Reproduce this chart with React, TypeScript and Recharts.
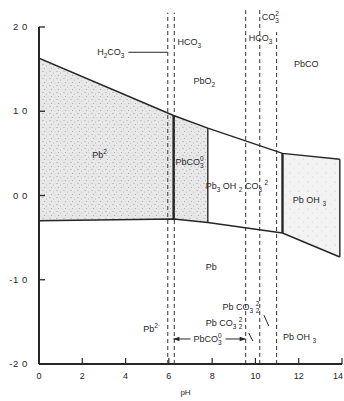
import React from 'react';
import {
  ComposedChart,
  Area,
  Line,
  XAxis,
  YAxis,
  ReferenceLine,
  ReferenceDot,
  Label,
} from 'recharts';

// Stability field boundaries (pH, Eh in V)
const boundaryPH = [0, 6.22, 7.8, 11.25, 13.9];
const upperEh = [1.63, 0.95, 0.8, 0.5, 0.43];
const lowerEh = [-0.3, -0.28, -0.32, -0.445, -0.73];

// Carbonate speciation limits (dashed verticals) and how high they reach
const dashedPH = [5.95, 6.25, 9.55, 10.2, 10.98];
const dashedTopEh = [2.17, 2.17, 2.2, 2.2, 1.94];

// Axis ticks
const xTicks = [0, 2, 4, 6, 8, 10, 12, 14];
const yTicks = [-2, -1, 0, 1, 2];
const yTickLabels = ['-2 0', '-1 0', '0 0', '1 0', '2 0'];

type Part = { t: string; k?: 'sub' | 'sup'; over?: string };

// Field and species names placed at (pH, Eh)
const speciesLabels: { ph: number; eh: number; parts: Part[] }[] = [
  { ph: 2.69, eh: 1.667, parts: [{ t: 'H' }, { t: '2', k: 'sub' }, { t: 'CO' }, { t: '3', k: 'sub' }] },
  { ph: 6.4, eh: 1.786, parts: [{ t: 'HCO' }, { t: '3', k: 'sub' }] },
  { ph: 7.14, eh: 1.323, parts: [{ t: 'PbO' }, { t: '2', k: 'sub' }] },
  { ph: 10.29, eh: 2.083, parts: [{ t: 'CO' }, { t: '3', k: 'sub', over: '2' }] },
  { ph: 9.69, eh: 1.834, parts: [{ t: 'HCO' }, { t: '3', k: 'sub' }] },
  { ph: 11.78, eh: 1.525, parts: [{ t: 'PbCO' }] },
  { ph: 2.46, eh: 0.445, parts: [{ t: 'Pb' }, { t: '2', k: 'sup' }] },
  { ph: 6.31, eh: 0.362, parts: [{ t: 'PbCO' }, { t: '3', k: 'sub', over: '0' }] },
  {
    ph: 7.7,
    eh: 0.077,
    parts: [
      { t: 'Pb' },
      { t: '3', k: 'sub' },
      { t: ' OH ' },
      { t: '2', k: 'sub' },
      { t: ' CO' },
      { t: '3', k: 'sub' },
      { t: ' ' },
      { t: '2', k: 'sup' },
    ],
  },
  { ph: 11.73, eh: -0.089, parts: [{ t: 'Pb OH ' }, { t: '3', k: 'sub' }] },
  { ph: 7.7, eh: -0.884, parts: [{ t: 'Pb' }] },
  { ph: 8.48, eh: -1.359, parts: [{ t: 'Pb CO' }, { t: '3', k: 'sub' }, { t: ' ' }, { t: '2', k: 'sub', over: '2' }] },
  { ph: 7.7, eh: -1.549, parts: [{ t: 'Pb CO' }, { t: '3', k: 'sub' }, { t: ' ' }, { t: '2', k: 'sub', over: '2' }] },
  { ph: 4.82, eh: -1.62, parts: [{ t: 'Pb' }, { t: '2·', k: 'sup' }] },
  { ph: 7.14, eh: -1.739, parts: [{ t: 'PbCO' }, { t: '3', k: 'sub', over: '0' }] },
  { ph: 11.27, eh: -1.715, parts: [{ t: 'Pb OH ' }, { t: '3', k: 'sub' }] },
];

// Leader lines and arrows next to the labels: [pH1, Eh1, pH2, Eh2]
const leaderLines: [number, number, number, number][] = [
  [4.13, 1.7, 5.95, 1.7],
  [6.21, -1.703, 7.0, -1.703],
  [8.62, -1.703, 9.55, -1.703],
  [10.39, -1.419, 10.62, -1.55],
  [9.69, -1.632, 9.88, -1.727],
];
const arrowHeads: { ph: number; eh: number; dir: 1 | -1 }[] = [
  { ph: 6.21, eh: -1.703, dir: -1 },
  { ph: 9.55, eh: -1.703, dir: 1 },
];

const INK = '#262626';
const FONT = '"Liberation Sans", Arial, Helvetica, sans-serif';

const rows = boundaryPH.map((ph, i) => ({ ph, range: [lowerEh[i], upperEh[i]] }));
const pb2Field = rows.slice(0, 2);
const pbco3Field = rows.slice(1, 3);
const hydroxideField = rows.slice(3, 5);
const upperLine = boundaryPH.map((ph, i) => ({ ph, eh: upperEh[i] }));
const lowerLine = boundaryPH.map((ph, i) => ({ ph, eh: lowerEh[i] }));
const verticals = boundaryPH.slice(1).map((ph, j) => [
  { ph, eh: lowerEh[j + 1] },
  { ph, eh: upperEh[j + 1] },
]);

function SpeciesText({ cx, cy, parts }: { cx?: number; cy?: number; parts: Part[] }) {
  if (cx == null || cy == null) return null;
  const spans: React.ReactNode[] = [];
  let cur = 0;
  parts.forEach((p, i) => {
    const target = p.k === 'sub' ? 3 : p.k === 'sup' ? -4 : 0;
    const size = p.k ? 6.5 : 9;
    if (p.over) {
      // superscript stacked over a subscript
      spans.push(
        <tspan key={i + 'o'} dy={-4 - cur} fontSize={6.5}>
          {p.over}
        </tspan>
      );
      spans.push(
        <tspan key={i} dx={-3.6} dy={7} fontSize={6.5}>
          {p.t}
        </tspan>
      );
      cur = 3;
    } else {
      spans.push(
        <tspan key={i} dy={target - cur} fontSize={size}>
          {p.t}
        </tspan>
      );
      cur = target;
    }
  });
  return (
    <text x={cx} y={cy} fill={INK} fontFamily={FONT} fontSize={9} style={{ whiteSpace: 'pre' }}>
      {spans}
    </text>
  );
}

function ArrowHead({ cx, cy, dir }: { cx?: number; cy?: number; dir: number }) {
  if (cx == null || cy == null) return null;
  const pts = `${cx},${cy} ${cx - dir * 6},${cy - 2.2} ${cx - dir * 6},${cy + 2.2}`;
  return <polygon points={pts} fill={INK} />;
}

function YTick(props: any) {
  const { x, y, index } = props;
  return (
    <g>
      <line x1={x} x2={x + 6} y1={y} y2={y} stroke={INK} strokeWidth={1.3} />
      <text
        x={x - 11}
        y={y + 3}
        textAnchor="end"
        fill={INK}
        fontFamily={FONT}
        fontSize={9.5}
        letterSpacing={0.6}
      >
        {yTickLabels[index]}
      </text>
    </g>
  );
}

function XTick(props: any) {
  const { x, y, payload, index } = props;
  const last = index === xTicks.length - 1;
  return (
    <g>
      <line x1={x} x2={x} y1={y} y2={y - 6} stroke={INK} strokeWidth={1.2} />
      <text
        x={last ? x + 1 : x}
        y={y + 15}
        textAnchor={last ? 'end' : 'middle'}
        fill={INK}
        fontFamily={FONT}
        fontSize={9}
      >
        {payload.value}
      </text>
    </g>
  );
}

function AxisTitle(props: any) {
  const vb = props.viewBox || {};
  const cx = (vb.x ?? 0) + (vb.width ?? 0) / 2 - 5;
  const y = (vb.y ?? 0) + (vb.height ?? 0) - 6;
  return (
    <text x={cx} y={y} textAnchor="middle" fill={INK} fontFamily={FONT} fontSize={8}>
      pH
    </text>
  );
}

export default function App() {
  return (
    <div style={{ position: 'absolute', left: 0, top: 0, background: '#fff' }}>
      <ComposedChart
        width={344}
        height={401}
        margin={{ top: 27, right: 2, bottom: 0, left: 0 }}
      >
        <defs>
          <pattern id="stipple" width="7" height="7" patternUnits="userSpaceOnUse">
            <rect width="7" height="7" fill="#e8e8e8" />
            <circle cx="1" cy="1.5" r="0.6" fill="#9a9a9a" />
            <circle cx="4.5" cy="3" r="0.5" fill="#a8a8a8" />
            <circle cx="2.5" cy="5.5" r="0.55" fill="#9f9f9f" />
            <circle cx="6" cy="6" r="0.4" fill="#b0b0b0" />
          </pattern>
          <pattern id="stippleLight" width="9" height="9" patternUnits="userSpaceOnUse">
            <rect width="9" height="9" fill="#f3f3f3" />
            <circle cx="2" cy="2" r="0.5" fill="#b4b4b4" />
            <circle cx="6.5" cy="6" r="0.45" fill="#bdbdbd" />
          </pattern>
        </defs>
        <XAxis
          dataKey="ph"
          type="number"
          domain={[0, 14]}
          ticks={xTicks}
          height={37}
          tickSize={0}
          tickMargin={0}
          tickLine={false}
          axisLine={{ stroke: INK, strokeWidth: 2 }}
          tick={<XTick />}
          interval={0}
          allowDataOverflow
        >
          <Label value="pH" content={<AxisTitle />} />
        </XAxis>
        <YAxis
          type="number"
          domain={[-2, 2]}
          ticks={yTicks}
          width={39}
          tickSize={0}
          tickMargin={0}
          tickLine={false}
          axisLine={{ stroke: INK, strokeWidth: 2 }}
          tick={<YTick />}
          interval={0}
          allowDataOverflow
        />

        <Area
          data={pb2Field}
          dataKey="range"
          type="linear"
          stroke="none"
          fill="url(#stipple)"
          fillOpacity={1}
          isAnimationActive={false}
        />
        <Area
          data={pbco3Field}
          dataKey="range"
          type="linear"
          stroke="none"
          fill="url(#stipple)"
          fillOpacity={1}
          isAnimationActive={false}
        />
        <Area
          data={hydroxideField}
          dataKey="range"
          type="linear"
          stroke="none"
          fill="url(#stippleLight)"
          fillOpacity={1}
          isAnimationActive={false}
        />

        {dashedPH.map((ph, i) => (
          <ReferenceLine
            key={'d' + i}
            segment={[
              { x: ph, y: -2 },
              { x: ph, y: dashedTopEh[i] },
            ]}
            stroke="#333"
            strokeWidth={1}
            strokeDasharray="4 3"
            ifOverflow="visible"
          />
        ))}

        <Line
          data={upperLine}
          dataKey="eh"
          type="linear"
          stroke={INK}
          strokeWidth={1.5}
          dot={false}
          isAnimationActive={false}
        />
        <Line
          data={lowerLine}
          dataKey="eh"
          type="linear"
          stroke={INK}
          strokeWidth={1.5}
          dot={false}
          isAnimationActive={false}
        />
        {verticals.map((seg, i) => (
          <Line
            key={'v' + i}
            data={seg}
            dataKey="eh"
            type="linear"
            stroke={INK}
            strokeWidth={i === 0 || i === 2 ? 2.4 : 1.4}
            dot={false}
            isAnimationActive={false}
          />
        ))}

        {leaderLines.map((l, i) => (
          <ReferenceLine
            key={'l' + i}
            segment={[
              { x: l[0], y: l[1] },
              { x: l[2], y: l[3] },
            ]}
            stroke={INK}
            strokeWidth={1}
            ifOverflow="visible"
          />
        ))}
        {arrowHeads.map((a, i) => (
          <ReferenceDot
            key={'a' + i}
            x={a.ph}
            y={a.eh}
            r={0}
            ifOverflow="visible"
            shape={(p: any) => <ArrowHead cx={p.cx} cy={p.cy} dir={a.dir} />}
          />
        ))}
        {speciesLabels.map((s, i) => (
          <ReferenceDot
            key={'s' + i}
            x={s.ph}
            y={s.eh}
            r={0}
            ifOverflow="visible"
            shape={(p: any) => <SpeciesText cx={p.cx} cy={p.cy} parts={s.parts} />}
          />
        ))}
      </ComposedChart>
    </div>
  );
}
